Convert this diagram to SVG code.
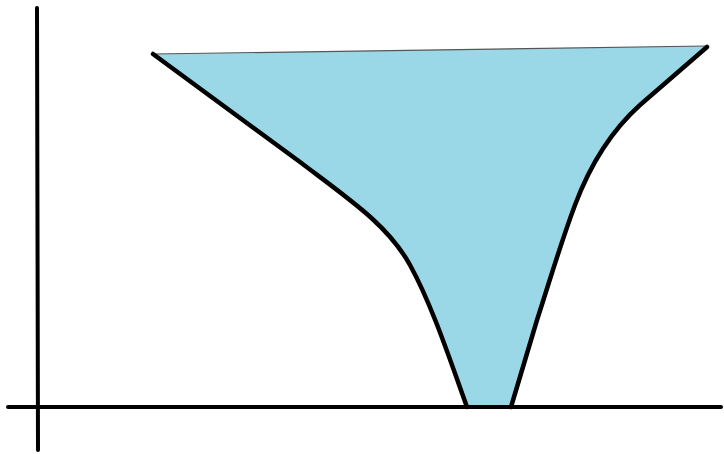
<svg xmlns="http://www.w3.org/2000/svg" width="724" height="454" viewBox="0 0 724 454">
<style>
.axis{stroke:#000;stroke-width:4;stroke-linecap:round;fill:none}
.edge{stroke:#000;stroke-width:4.5;stroke-linecap:round;stroke-linejoin:round;fill:none}
.top{stroke:#555;stroke-width:1.2;fill:none}
.fill{fill:#9AD8E8;stroke:none}
</style>
<rect width="724" height="454" fill="#fff"/>
<g id="funnel">
<path class="fill" d="M153,54 L707,46 L640,105 C610,132 590,165 575,205 C560,245 550,280 537,320 L511,407 L467,407 C450,360 432,305 410,265 C388,225 350,200 300,162 Z"/>
<path class="top" d="M153,54 L707,46"/>
<path class="edge" d="M153,54 L300,162 C350,200 388,225 410,265 C432,305 450,360 467,407"/>
<path class="edge" d="M707,47 L640,105 C610,132 590,165 575,205 C560,245 550,280 537,320 L511,407"/>
</g>
<g id="axes">
<line class="axis" x1="37" y1="8" x2="38" y2="450"/>
<line class="axis" x1="8" y1="407" x2="721" y2="407"/>
</g>
</svg>
